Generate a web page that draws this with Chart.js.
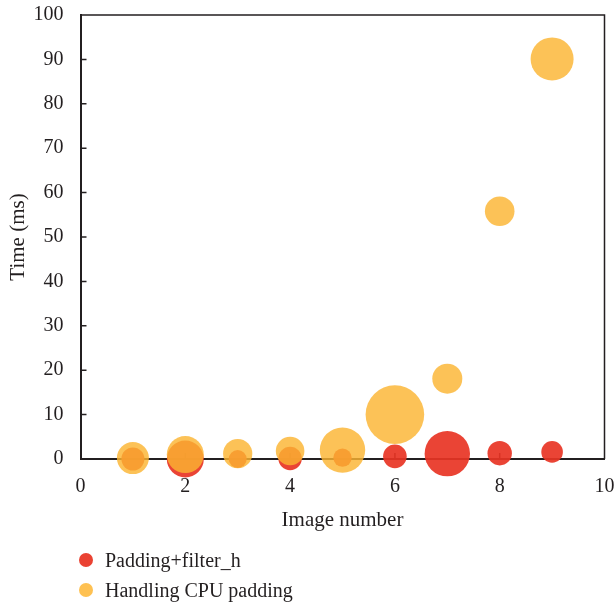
<!DOCTYPE html>
<html>
<head>
<meta charset="utf-8">
<script src="https://cdn.jsdelivr.net/npm/chart.js@4/dist/chart.umd.min.js"></script>
<style>
  html, body { margin: 0; padding: 0; background: #fff; }
  #wrap { position: relative; width: 616px; height: 608px; }
  .leg { position: absolute; left: 79px; font: 20px "Liberation Serif", serif; color: #231f20; white-space: nowrap; }
  .leg span.dot { display: inline-block; width: 14px; height: 14px; border-radius: 7px; vertical-align: middle; margin-right: 12px; position: relative; top: -2px; }
</style>
</head>
<body>
<div id="wrap">
  <canvas id="bubbleChart" width="616" height="608"></canvas>
  <div class="leg" style="top:549px"><span class="dot" style="background:#ea4232"></span>Padding+filter_h</div>
  <div class="leg" style="top:579px"><span class="dot" style="background:#fec152"></span>Handling CPU padding</div>
</div>
<script>
// image number on x, time (ms) on y, bubble radius in px
const imageNumbers = [1, 2, 3, 4, 5, 6, 7, 8, 9];
const paddingFilterTime = [0, 0, 0, 0.1, 0.3, 0.6, 1.2, 1.3, 1.6];
const paddingFilterSize = [11.5, 18.5, 9, 11.7, 9.2, 11.8, 22.7, 12.2, 10.8];
const cpuPaddingTime = [0.2, 1.0, 1.2, 1.8, 2.0, 10.0, 18.1, 55.8, 90.1];
const cpuPaddingSize = [16, 18.5, 14.6, 14.3, 22.7, 29.3, 15, 14.8, 21.5];
const xTicks = [0, 2, 4, 6, 8, 10];
const yTicks = [0, 10, 20, 30, 40, 50, 60, 70, 80, 90, 100];

const textColor = "#231f20";
const serif = "'Liberation Serif', 'Times New Roman', serif";

function toPoints(ys, rs) {
    return imageNumbers.map((x, i) => ({ x: x, y: ys[i], r: rs[i] }));
}

// bubbles add their max radius as padding around the chart area; we don't want that
// (datasets use clip:false so nothing gets cut)
Chart.BubbleController.prototype.getMaxOverflow = function () { return 0; };

// inner ticks + top/right frame, drawn under the bubbles
const frameTicks = {
    id: "frameTicks",
    beforeDatasetsDraw(chart) {
        const { ctx, chartArea: a, scales } = chart;
        ctx.save();
        ctx.strokeStyle = textColor;
        ctx.lineWidth = 1.5;
        ctx.beginPath();
        ctx.moveTo(a.left, a.top);
        ctx.lineTo(a.right, a.top);
        ctx.lineTo(a.right, a.bottom);
        ctx.stroke();
        ctx.beginPath();
        xTicks.slice(1, -1).forEach(v => {
            const px = scales.x.getPixelForValue(v);
            ctx.moveTo(px, a.bottom);
            ctx.lineTo(px, a.bottom - 6);
        });
        yTicks.slice(1, -1).forEach(v => {
            const py = scales.y.getPixelForValue(v);
            ctx.moveTo(a.left, py);
            ctx.lineTo(a.left + 6, py);
        });
        ctx.stroke();
        ctx.restore();
    }
};

const ctx = document.getElementById("bubbleChart").getContext("2d");
new Chart(ctx, {
    type: "bubble",
    data: {
        datasets: [{
            label: "Padding+filter_h",
            data: toPoints(paddingFilterTime, paddingFilterSize),
            backgroundColor: "rgba(232, 52, 36, 0.92)",
            borderWidth: 0,
            order: 2,
            clip: false
        }, {
            label: "Handling CPU padding",
            data: toPoints(cpuPaddingTime, cpuPaddingSize),
            backgroundColor: "rgba(251, 180, 50, 0.82)",
            borderWidth: 0,
            order: 1,
            clip: false
        }]
    },
    options: {
        responsive: false,
        animation: false,
        layout: { padding: { left: 6, top: 15, right: 11.5, bottom: 75 } },
        plugins: {
            legend: { display: false },
            tooltip: { enabled: false }
        },
        scales: {
            x: {
                type: "linear",
                min: 0,
                max: 10,
                afterBuildTicks: s => { s.ticks = xTicks.map(v => ({ value: v })); },
                afterFit: s => { s.height = 74; s.paddingLeft = 0; s.paddingRight = 0; },
                grid: { display: false },
                border: { display: true, color: textColor, width: 2 },
                ticks: { color: textColor, padding: 8, font: { family: serif, size: 20 } },
                title: { display: true, text: "Image number", color: textColor, padding: 0, font: { family: serif, size: 21 } }
            },
            y: {
                type: "linear",
                min: 0,
                max: 100,
                afterBuildTicks: s => { s.ticks = yTicks.map(v => ({ value: v })); },
                afterFit: s => { s.width = 74.5; s.paddingTop = 0; s.paddingBottom = 0; },
                grid: { display: false },
                border: { display: true, color: textColor, width: 2 },
                ticks: { color: textColor, padding: 9, font: { family: serif, size: 20 } },
                title: { display: true, text: "Time (ms)", color: textColor, padding: 0, font: { family: serif, size: 21 } }
            }
        }
    },
    plugins: [frameTicks]
});
</script>
</body>
</html>
